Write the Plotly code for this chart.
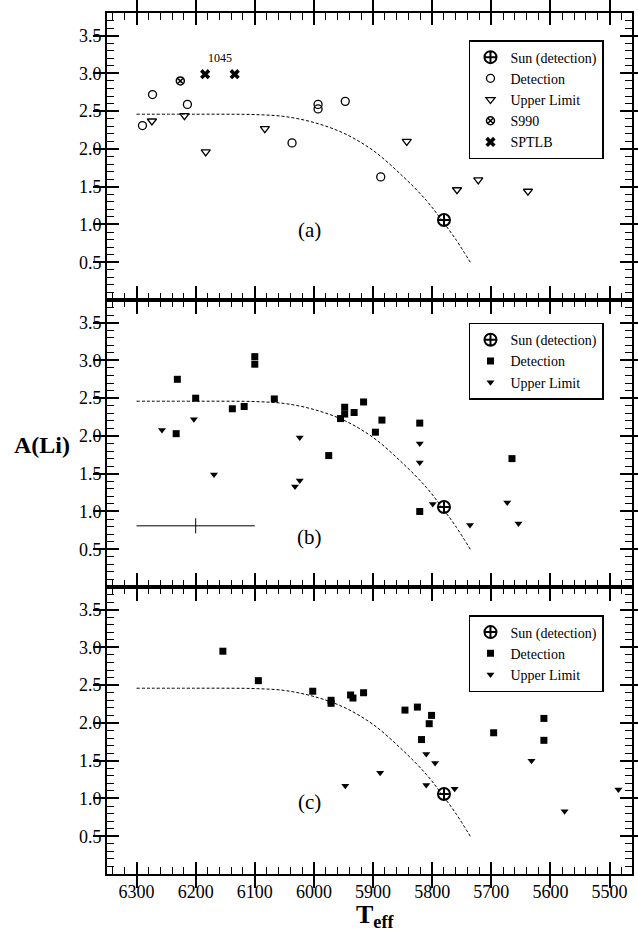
import plotly.graph_objects as go
from plotly.subplots import make_subplots

# ---------------- data ----------------
# Sun
sun_teff = [5780]
sun_ali = [1.06]

# Panel (a)
a_det_teff = [6290, 6273, 6214, 6037, 5993, 5993, 5947, 5887]
a_det_ali = [2.31, 2.72, 2.59, 2.08, 2.59, 2.53, 2.63, 1.63]
a_ul_teff = [6274, 6219, 6183, 6083, 5843, 5758, 5722, 5638]
a_ul_ali = [2.37, 2.44, 1.96, 2.27, 2.10, 1.46, 1.59, 1.44]
a_s990_teff = [6226]
a_s990_ali = [2.90]
a_sptlb_teff = [6184, 6134]
a_sptlb_ali = [2.99, 2.99]
label_1045 = "1045"

# Panel (b)
b_det_teff = [6231, 6233, 6200, 6138, 6118, 6100, 6100, 6067, 5975,
              5955, 5948, 5948, 5932, 5916, 5896, 5885, 5821, 5821, 5665]
b_det_ali = [2.75, 2.03, 2.50, 2.36, 2.39, 3.05, 2.95, 2.49, 1.74,
             2.23, 2.29, 2.38, 2.31, 2.45, 2.05, 2.21, 2.17, 1.00, 1.70]
b_ul_teff = [6257, 6203, 6169, 6024, 6024, 6032, 5821, 5821, 5799, 5736, 5673, 5654]
b_ul_ali = [2.08, 2.22, 1.49, 1.98, 1.41, 1.33, 1.90, 1.65, 1.10, 0.82, 1.12, 0.84]
# typical error bar
err_teff = [6200]
err_ali = [0.81]
err_dteff = [100]
err_dali = [0.1]

# Panel (c)
c_det_teff = [6154, 6094, 6002, 5971, 5971, 5938, 5934, 5916, 5846,
              5825, 5801, 5805, 5818, 5696, 5611, 5611]
c_det_ali = [2.95, 2.56, 2.42, 2.30, 2.26, 2.37, 2.33, 2.40, 2.17,
             2.21, 2.10, 1.99, 1.78, 1.87, 2.06, 1.77]
c_ul_teff = [5810, 5795, 5888, 5947, 5810, 5762, 5632, 5576, 5485]
c_ul_ali = [1.59, 1.47, 1.34, 1.17, 1.18, 1.13, 1.50, 0.83, 1.12]

# Dashed model curve
curve_teff = [6300, 6200, 6150, 6100, 6050, 6000, 5950, 5900, 5850, 5810, 5784, 5759, 5734]
curve_ali = [2.46, 2.46, 2.46, 2.455, 2.43, 2.35, 2.21, 1.98, 1.64, 1.32, 1.06, 0.79, 0.48]

panel_labels = ["(a)", "(b)", "(c)"]
panel_label_teff = [6008, 6008, 6008]
panel_label_ali = [0.93, 0.66, 0.95]

y_tickvals = [0.5, 1.0, 1.5, 2.0, 2.5, 3.0, 3.5]
x_range = [6350, 5462]
y_range = [0, 3.8]

# ---------------- figure ----------------
FONT = "Liberation Serif"
fig = make_subplots(rows=3, cols=1, shared_xaxes=True, vertical_spacing=0)

def curve(row):
    fig.add_trace(go.Scatter(x=curve_teff, y=curve_ali, mode="lines",
                             line=dict(color="black", width=1, dash="3px,2px"),
                             line_shape="spline", showlegend=False, hoverinfo="skip"),
                  row=row, col=1)

def sun(row, leg):
    fig.add_trace(go.Scatter(x=sun_teff, y=sun_ali, mode="markers", name="Sun (detection)",
                             marker=dict(symbol="circle-cross-open", size=12, color="black",
                                         line=dict(width=2, color="black")),
                             legend=leg), row=row, col=1)

# panel a
curve(1)
sun(1, "legend")
fig.add_trace(go.Scatter(x=a_det_teff, y=a_det_ali, mode="markers", name="Detection",
                         marker=dict(symbol="circle-open", size=8, color="black",
                                     line=dict(width=1.3, color="black")),
                         legend="legend"), row=1, col=1)
fig.add_trace(go.Scatter(x=a_ul_teff, y=a_ul_ali, mode="markers", name="Upper Limit",
                         marker=dict(symbol="triangle-down-open", size=8, color="black",
                                     line=dict(width=1.3, color="black")),
                         legend="legend"), row=1, col=1)
fig.add_trace(go.Scatter(x=a_s990_teff, y=a_s990_ali, mode="markers", name="S990",
                         marker=dict(symbol="circle-x-open", size=8, color="black",
                                     line=dict(width=1.5, color="black")),
                         legend="legend"), row=1, col=1)
fig.add_trace(go.Scatter(x=a_sptlb_teff, y=a_sptlb_ali, mode="markers", name="SPTLB",
                         marker=dict(symbol="x", size=9, color="black", line=dict(width=0)),
                         legend="legend"), row=1, col=1)

# panel b
curve(2)
sun(2, "legend2")
fig.add_trace(go.Scatter(x=b_det_teff, y=b_det_ali, mode="markers", name="Detection",
                         marker=dict(symbol="square", size=7, color="black"),
                         legend="legend2"), row=2, col=1)
fig.add_trace(go.Scatter(x=b_ul_teff, y=b_ul_ali, mode="markers", name="Upper Limit",
                         marker=dict(symbol="triangle-down", size=7, color="black"),
                         legend="legend2"), row=2, col=1)
fig.add_trace(go.Scatter(x=err_teff, y=err_ali, mode="markers",
                         marker=dict(size=1, color="rgba(0,0,0,0)"),
                         error_x=dict(type="data", array=err_dteff, color="black", thickness=1, width=0),
                         error_y=dict(type="data", array=err_dali, color="black", thickness=1, width=0),
                         showlegend=False, hoverinfo="skip"), row=2, col=1)

# panel c
curve(3)
sun(3, "legend3")
fig.add_trace(go.Scatter(x=c_det_teff, y=c_det_ali, mode="markers", name="Detection",
                         marker=dict(symbol="square", size=7, color="black"),
                         legend="legend3"), row=3, col=1)
fig.add_trace(go.Scatter(x=c_ul_teff, y=c_ul_ali, mode="markers", name="Upper Limit",
                         marker=dict(symbol="triangle-down", size=7, color="black"),
                         legend="legend3"), row=3, col=1)

# main axes (major ticks)
axis_common = dict(showline=True, linewidth=2, linecolor="black", mirror="allticks",
                   ticks="inside", ticklen=12, tickwidth=1.6, tickcolor="black",
                   showgrid=False, zeroline=False)
for r in (1, 2, 3):
    fig.update_xaxes(range=x_range, tick0=6300, dtick=100, tickmode="linear",
                     showticklabels=(r == 3),
                     tickfont=dict(family=FONT, size=18, color="black"),
                     row=r, col=1, **axis_common)
    fig.update_yaxes(range=y_range, tickmode="array", tickvals=y_tickvals,
                     tickformat=".1f",
                     tickfont=dict(family=FONT, size=18, color="black"),
                     row=r, col=1, **axis_common)

# overlay axes carrying the minor ticks
minor_common = dict(ticks="inside", ticklen=7, tickwidth=1.4, tickcolor="black",
                    showticklabels=False, showline=False, showgrid=False, zeroline=False,
                    mirror="ticks", tickmode="linear")
main_ids = [("x", "y"), ("x2", "y2"), ("x3", "y3")]
for i, (xa, ya) in enumerate(main_ids):
    mx = "x" + str(i + 4)
    my = "y" + str(i + 4)
    fig.update_layout({
        "xaxis" + str(i + 4): dict(overlaying=xa, anchor=ya, side="bottom", range=x_range,
                                   tick0=6300, dtick=20, **minor_common),
        "yaxis" + str(i + 4): dict(overlaying=ya, anchor=xa, side="left", range=y_range,
                                   tick0=0, dtick=0.1, **minor_common),
    })
    fig.add_trace(go.Scatter(x=[None], y=[None], xaxis=mx, yaxis=ya, mode="markers",
                             showlegend=False, hoverinfo="skip"))
    fig.add_trace(go.Scatter(x=[None], y=[None], xaxis=xa, yaxis=my, mode="markers",
                             showlegend=False, hoverinfo="skip"))

# panel labels and 1045
for i, (lab, tx, ty) in enumerate(zip(panel_labels, panel_label_teff, panel_label_ali)):
    ax = "" if i == 0 else str(i + 1)
    fig.add_annotation(x=tx, y=ty, xref="x" + ax, yref="y" + ax, text=lab, showarrow=False,
                       font=dict(family=FONT, size=21, color="black"))
fig.add_annotation(x=(a_sptlb_teff[0] + a_sptlb_teff[1]) / 2, y=3.20, xref="x", yref="y",
                   text=label_1045, showarrow=False,
                   font=dict(family=FONT, size=12, color="black"))

# axis titles
fig.add_annotation(x=-0.124, y=0.498, xref="paper", yref="paper", text="<b>A(Li)</b>",
                   showarrow=False, xanchor="center", yanchor="middle",
                   font=dict(family=FONT, size=24, color="black"))
fig.add_annotation(x=0.51, y=-0.049, xref="paper", yref="paper", text="<b>T<sub>eff</sub></b>",
                   showarrow=False, xanchor="center", yanchor="middle",
                   font=dict(family=FONT, size=26, color="black"))

leg_common = dict(xanchor="left", yanchor="top", bgcolor="white", bordercolor="black",
                  borderwidth=1.5, font=dict(family=FONT, size=14, color="black"),
                  itemwidth=30, tracegroupgap=0)
fig.update_layout(
    template="simple_white",
    width=638, height=929,
    margin=dict(l=107, r=6, t=13, b=55, autoexpand=False),
    paper_bgcolor="white", plot_bgcolor="white",
    font=dict(family=FONT, color="black"),
    legend=dict(x=0.6895, y=0.9686, **leg_common),
    legend2=dict(x=0.6895, y=0.6403, **leg_common),
    legend3=dict(x=0.6895, y=0.3008, **leg_common),
)

fig.write_html("out.html", config={"displayModeBar": False},
               post_script="document.body.style.margin='0px';document.body.style.overflow='hidden';")
